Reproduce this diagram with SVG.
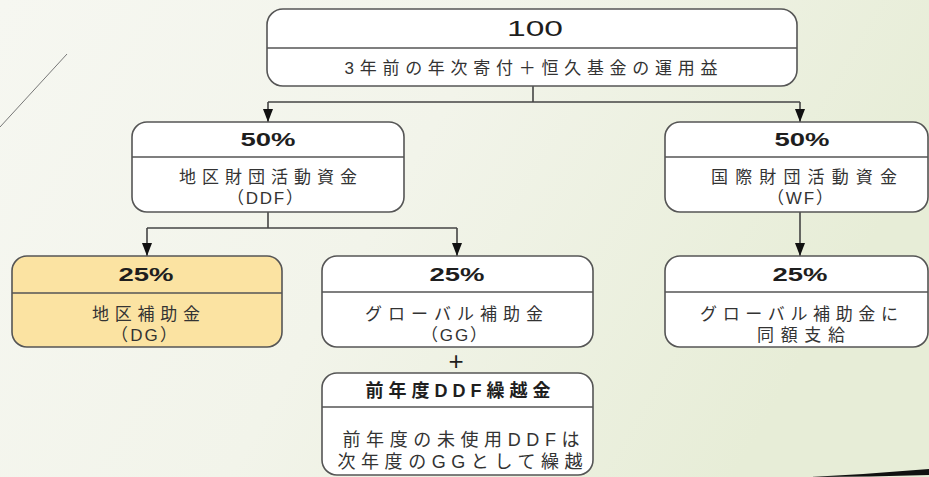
<svg xmlns="http://www.w3.org/2000/svg" width="929" height="477" viewBox="0 0 929 477">
<defs>
<linearGradient id="bg" x1="0" y1="0" x2="1" y2="0.3">
<stop offset="0" stop-color="#f6f7f1"/>
<stop offset="0.5" stop-color="#f2f4ea"/>
<stop offset="1" stop-color="#e7edd7"/>
</linearGradient>
<marker id="arr" markerUnits="userSpaceOnUse" markerWidth="15" markerHeight="12" viewBox="0 0 15 12" refX="14" refY="6" orient="auto">
<path d="M1 1 L14 6 L1 11 Z" fill="#111"/>
</marker>
<style>
.box{fill:#fff;stroke:#555;stroke-width:1.6}
.dg{fill:#fbe3a2}
.div{stroke:#555;stroke-width:1.4;fill:none}
.con{stroke:#444;stroke-width:1.6;fill:none}
text{font-family:"Liberation Sans","Noto Sans CJK JP",sans-serif;fill:#333;text-anchor:middle;dominant-baseline:central}
.pct{font-size:19px;font-weight:bold;fill:#1e1e1e}
.big{font-size:22px;fill:#1e1e1e}
.t{font-size:17px}
.m{font-size:17px}
.l{font-size:18px}
.b{font-size:18px;font-weight:bold;fill:#1e1e1e}
</style>
</defs>
<rect width="929" height="477" fill="url(#bg)"/>
<path d="M0 127 L67 54" stroke="#777" stroke-width="1"/>
<path d="M810 477 Q870 474 929 469 L929 475 Q870 477 810 477 Z" fill="#111"/>

<g id="connectors">
<path class="con" d="M533 86 V102"/>
<path class="con" d="M268 102 H800"/>
<path class="con" d="M268 102 V122" marker-end="url(#arr)"/>
<path class="con" d="M800 102 V122" marker-end="url(#arr)"/>
<path class="con" d="M268 212 V228"/>
<path class="con" d="M147 228 H457"/>
<path class="con" d="M147 228 V256" marker-end="url(#arr)"/>
<path class="con" d="M457 228 V256" marker-end="url(#arr)"/>
<path class="con" d="M800 212 V256" marker-end="url(#arr)"/>
</g>

<g id="n100">
<rect class="box" x="267" y="9" width="530" height="77" rx="16"/>
<path class="div" d="M267 48 H797"/>
<text class="big" x="535" y="28" textLength="56" lengthAdjust="spacingAndGlyphs">100</text>
<text class="t" x="531" y="68" textLength="373" lengthAdjust="spacing">3年前の年次寄付＋恒久基金の運用益</text>
</g>

<g id="nDDF">
<rect class="box" x="132" y="122" width="272" height="90" rx="15"/>
<path class="div" d="M132 157 H404"/>
<text class="pct" x="268" y="139" textLength="55" lengthAdjust="spacingAndGlyphs">50%</text>
<text class="m" x="268" y="177" textLength="178" lengthAdjust="spacing">地区財団活動資金</text>
<text class="m" x="265" y="198" textLength="76" lengthAdjust="spacing">（DDF）</text>
</g>

<g id="nWF">
<rect class="box" x="665" y="122" width="263" height="90" rx="15"/>
<path class="div" d="M665 157 H928"/>
<text class="pct" x="802" y="139" textLength="55" lengthAdjust="spacingAndGlyphs">50%</text>
<text class="m" x="804" y="177" textLength="186" lengthAdjust="spacing">国際財団活動資金</text>
<text class="m" x="800" y="198" textLength="66" lengthAdjust="spacing">（WF）</text>
</g>

<g id="nDG">
<rect class="box dg" x="12" y="256" width="270" height="91" rx="15"/>
<path class="div" d="M12 293 H282"/>
<text class="pct" x="146" y="274" textLength="55" lengthAdjust="spacingAndGlyphs">25%</text>
<text class="m" x="146" y="314" textLength="108" lengthAdjust="spacing">地区補助金</text>
<text class="m" x="144" y="335" textLength="66" lengthAdjust="spacing">（DG）</text>
</g>

<g id="nGG">
<rect class="box" x="322" y="256" width="271" height="91" rx="15"/>
<path class="div" d="M322 292 H593"/>
<text class="pct" x="457" y="274" textLength="55" lengthAdjust="spacingAndGlyphs">25%</text>
<text class="m" x="454" y="314" textLength="178" lengthAdjust="spacing">グローバル補助金</text>
<text class="m" x="454" y="335" textLength="66" lengthAdjust="spacing">（GG）</text>
</g>

<g id="plus">
<text x="456" y="361" style="font-size:26px;fill:#1e1e1e">+</text>
</g>

<g id="nCarry">
<rect class="box" x="322" y="373" width="271" height="102" rx="15"/>
<path class="div" d="M322 407 H593"/>
<text class="b" x="458" y="391" textLength="185" lengthAdjust="spacing">前年度DDF繰越金</text>
<text class="l" x="461" y="440" textLength="237" lengthAdjust="spacing">前年度の未使用DDFは</text>
<text class="l" x="460" y="462" textLength="245" lengthAdjust="spacing">次年度のGGとして繰越</text>
</g>

<g id="nMatch">
<rect class="box" x="665" y="256" width="263" height="91" rx="15"/>
<path class="div" d="M665 292 H928"/>
<text class="pct" x="800" y="274" textLength="55" lengthAdjust="spacingAndGlyphs">25%</text>
<text class="m" x="799" y="314" textLength="198" lengthAdjust="spacing">グローバル補助金に</text>
<text class="m" x="801" y="335" textLength="88" lengthAdjust="spacing">同額支給</text>
</g>
</svg>
